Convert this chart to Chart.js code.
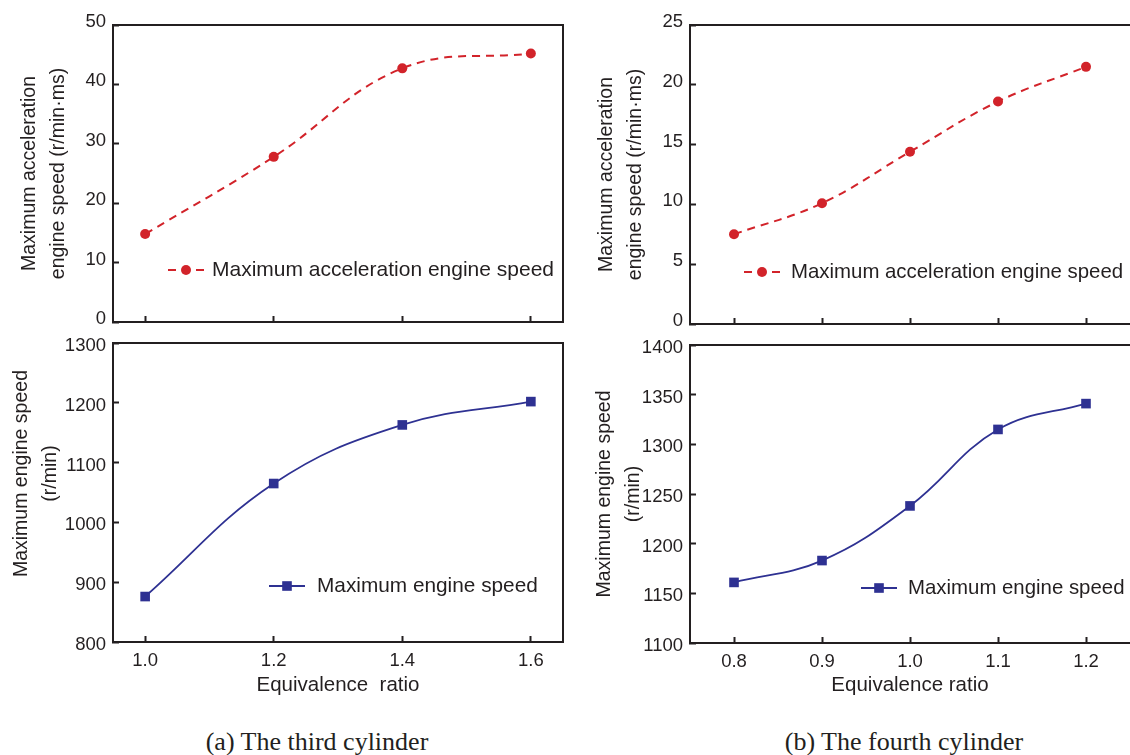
<!DOCTYPE html>
<html lang="en">

<head>
   <meta charset="UTF-8">
   <title>Equivalence ratio - engine speed</title>
   <style>
      body { margin: 0; background: #fff; width: 1130px; height: 755px; overflow: hidden; position: relative; }
      canvas { position: absolute; }
      .caption { position: absolute; top: 727px; height: 30px; line-height: 30px; font-family: "Liberation Serif", "Times New Roman", serif; font-size: 26px; color: #231f20; transform: translateX(-50%); white-space: nowrap; }
   </style>
</head>

<body>
   <script src="https://cdn.jsdelivr.net/npm/chart.js"></script>

   <canvas id="acc-third" width="565" height="335" style="left:0;top:0"></canvas>
   <canvas id="speed-third" width="565" height="365" style="left:0;top:335px"></canvas>
   <canvas id="acc-fourth" width="565" height="337" style="left:565px;top:0"></canvas>
   <canvas id="speed-fourth" width="565" height="363" style="left:565px;top:337px"></canvas>

   <div class="caption" style="left:317px">(a) The third cylinder</div>
   <div class="caption" style="left:904px">(b) The fourth cylinder</div>

   <script>
      // values
      const ratioThird = [1.0, 1.2, 1.4, 1.6];
      const accelThird = [14.8, 27.8, 42.7, 45.2];
      const speedThird = [876, 1065, 1163, 1202];

      const ratioFourth = [0.8, 0.9, 1.0, 1.1, 1.2];
      const accelFourth = [7.5, 10.1, 14.4, 18.6, 21.5];
      const speedFourth = [1161, 1183, 1238, 1315, 1341];

      const accelLabel = "Maximum acceleration engine speed";
      const speedLabel = "Maximum engine speed";
      const accelTitle = ["Maximum acceleration", "engine speed (r/min\u00b7ms)"];
      const speedTitle = ["Maximum engine speed", "(r/min)"];

      const ink = '#231f20';
      const red = '#d2232a';
      const blue = '#2e3192';
      const sans = '"Liberation Sans", Arial, Helvetica, sans-serif';

      Chart.defaults.font.family = sans;
      Chart.defaults.color = ink;

      // legend drawn inside the plot, like the figure
      const insideLegend = {
         id: 'insideLegend',
         afterDatasetsDraw(chart, args, opts) {
            const { ctx, chartArea } = chart;
            const ds = chart.data.datasets[0];
            const x0 = chartArea.left + opts.x;
            const y = chartArea.top + opts.y;
            ctx.save();
            ctx.strokeStyle = ds.borderColor;
            ctx.lineWidth = ds.borderWidth;
            ctx.setLineDash(ds.borderDash || []);
            ctx.beginPath();
            ctx.moveTo(x0, y);
            ctx.lineTo(x0 + 36, y);
            ctx.stroke();
            ctx.setLineDash([]);
            ctx.fillStyle = ds.backgroundColor;
            if (ds.pointStyle === 'rect') {
               const s = ds.pointRadius * Math.SQRT1_2;
               ctx.fillRect(x0 + 18 - s, y - s, 2 * s, 2 * s);
            } else {
               ctx.beginPath();
               ctx.arc(x0 + 18, y, ds.pointRadius, 0, Math.PI * 2);
               ctx.fill();
            }
            ctx.fillStyle = ink;
            ctx.font = opts.size + 'px ' + sans;
            ctx.textBaseline = 'middle';
            ctx.fillText(ds.label, x0 + opts.gap, y);
            ctx.restore();
         }
      };

      // top and right edges of the box
      const frame = {
         id: 'frame',
         beforeDatasetsDraw(chart, args, opts) {
            const { ctx, chartArea: a } = chart;
            ctx.save();
            ctx.strokeStyle = ink;
            ctx.lineWidth = 2;
            ctx.beginPath();
            ctx.moveTo(a.left, a.top);
            ctx.lineTo(a.right, a.top);
            if (opts.right) ctx.lineTo(a.right, a.bottom);
            ctx.stroke();
            ctx.restore();
         }
      };

      function makeChart(id, o) {
         new Chart(document.getElementById(id), {
            type: 'line',
            data: {
               datasets: [{
                  label: o.label,
                  data: o.xs.map((x, i) => ({ x: x, y: o.ys[i] })),
                  borderColor: o.color,
                  backgroundColor: o.color,
                  borderWidth: o.lineWidth,
                  borderDash: o.dash,
                  pointStyle: o.point,
                  pointRadius: o.radius,
                  pointBorderWidth: 0,
                  pointBackgroundColor: o.color,
                  tension: 0.4,
                  fill: false
               }]
            },
            options: {
               responsive: false,
               animation: false,
               devicePixelRatio: 1,
               layout: { padding: o.pad, autoPadding: false },
               plugins: {
                  legend: { display: false },
                  tooltip: { enabled: false },
                  insideLegend: o.legend,
                  frame: { right: o.frameRight }
               },
               scales: {
                  x: {
                     type: 'linear',
                     min: o.xmin,
                     max: o.xmax,
                     afterFit: s => {
                        s.height = o.xh;
                        s.paddingLeft = s.paddingRight = 0;
                     },
                     // one tick under each measured ratio
                     afterBuildTicks: s => { s.ticks = o.xs.map(v => ({ value: v })); },
                     border: { color: ink, width: 2 },
                     grid: { drawOnChartArea: false, tickLength: -6, tickColor: ink, tickWidth: 2 },
                     ticks: {
                        display: o.xLabels,
                        padding: 14,
                        font: { size: 18.5 },
                        color: ink,
                        callback: v => v.toFixed(1)
                     },
                     title: {
                        display: o.xLabels,
                        text: o.xTitle,
                        font: { size: 20.5 },
                        color: ink,
                        padding: { top: 0, bottom: 2 }
                     }
                  },
                  y: {
                     min: o.ymin,
                     max: o.ymax,
                     afterFit: s => {
                        s.width = o.yw;
                        s.paddingTop = s.paddingBottom = 0;
                     },
                     border: { color: ink, width: 2 },
                     grid: { drawOnChartArea: false, tickLength: -6, tickColor: ink, tickWidth: 2 },
                     ticks: {
                        stepSize: o.ystep,
                        padding: 13,
                        labelOffset: o.labelOffset,
                        font: { size: 18.5 },
                        color: ink,
                        callback: v => String(v)
                     },
                     title: {
                        display: true,
                        text: o.yTitle,
                        font: { size: 19.5, lineHeight: '29px' },
                        color: ink,
                        padding: { top: o.titlePad, bottom: 0 }
                     }
                  }
               }
            },
            plugins: [insideLegend, frame]
         });
      }

      const accelStyle = { label: accelLabel, color: red, lineWidth: 2, dash: [8, 6], point: 'circle', radius: 5 };
      const speedStyle = { label: speedLabel, color: blue, lineWidth: 1.8, dash: [], point: 'rect', radius: 6.8 };

      makeChart('acc-third', Object.assign({}, accelStyle, {
         xs: ratioThird, ys: accelThird, xmin: 0.95, xmax: 1.65,
         ymin: 0, ymax: 50, ystep: 10, yTitle: accelTitle, xTitle: '', xLabels: false,
         pad: { top: 25, right: 2, left: 0, bottom: 0 }, xh: 13, yw: 113, titlePad: 15,
         labelOffset: -3, frameRight: true, legend: { x: 55, y: 245, gap: 44, size: 21 }
      }));

      // title sits a little above the middle of this axis in the figure
      makeChart('speed-third', Object.assign({}, speedStyle, {
         xs: ratioThird, ys: speedThird, xmin: 0.95, xmax: 1.65,
         ymin: 800, ymax: 1300, ystep: 100,
         yTitle: speedTitle.map(t => '\u00a0'.repeat(7) + t), xTitle: 'Equivalence  ratio', xLabels: true,
         pad: { top: 8, right: 2, left: 0, bottom: 0 }, xh: 58, yw: 113, titlePad: 7,
         labelOffset: 3, frameRight: true, legend: { x: 156, y: 243, gap: 48, size: 20.8 }
      }));

      makeChart('acc-fourth', Object.assign({}, accelStyle, {
         xs: ratioFourth, ys: accelFourth, xmin: 0.75, xmax: 1.25,
         ymin: 0, ymax: 25, ystep: 5, yTitle: accelTitle, xTitle: '', xLabels: false,
         pad: { top: 25, right: 0, left: 0, bottom: 0 }, xh: 13, yw: 125, titlePad: 27,
         labelOffset: -3, frameRight: false, legend: { x: 54, y: 247, gap: 47, size: 20.4 }
      }));

      makeChart('speed-fourth', Object.assign({}, speedStyle, {
         xs: ratioFourth, ys: speedFourth, xmin: 0.75, xmax: 1.25,
         ymin: 1100, ymax: 1400, ystep: 50, yTitle: speedTitle, xTitle: 'Equivalence ratio', xLabels: true,
         pad: { top: 8, right: 0, left: 0, bottom: 0 }, xh: 57, yw: 125, titlePad: 25,
         labelOffset: 3, frameRight: false, legend: { x: 171, y: 243, gap: 47, size: 20.4 }
      }));
   </script>
</body>

</html>
